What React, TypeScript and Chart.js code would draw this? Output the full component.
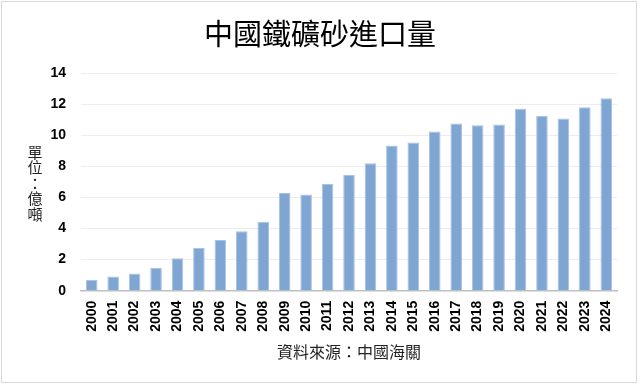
import React, { useEffect, useRef } from "react";
import { Chart, registerables } from "chart.js";

Chart.register(...registerables);

const years = [
  "2000", "2001", "2002", "2003", "2004", "2005", "2006", "2007", "2008", "2009",
  "2010", "2011", "2012", "2013", "2014", "2015", "2016", "2017", "2018", "2019",
  "2020", "2021", "2022", "2023", "2024",
];
const imports = [
  0.70, 0.92, 1.11, 1.48, 2.08, 2.75, 3.26, 3.83, 4.44, 6.28,
  6.19, 6.86, 7.44, 8.19, 9.33, 9.53, 10.24, 10.75, 10.64, 10.69,
  11.70, 11.24, 11.07, 11.79, 12.37,
];
const chartTitle = "中國鐵礦砂進口量";
const yTitleChars = ["單", "位", "：", "億", "噸"];
const xTitle = "資料來源：中國海關";

const W = 640;
const H = 386;
const CJK = '"Noto Sans CJK TC", "Noto Sans CJK SC", sans-serif';
const NUM = '"Liberation Sans", Arial, sans-serif';

const textPlugin = {
  id: "extraText",
  afterDraw(chart: any) {
    const ctx = chart.ctx;
    ctx.save();
    ctx.fillStyle = "#000000";
    ctx.textAlign = "center";
    ctx.textBaseline = "middle";
    ctx.font = `29px ${CJK}`;
    ctx.fillText(chartTitle, 320, 34);
    ctx.fillStyle = "#222222";
    ctx.font = `15px ${CJK}`;
    yTitleChars.forEach((c, i) => {
      ctx.fillText(c, 35, 152 + i * 15.5);
    });
    ctx.restore();
  },
};

export default function App() {
  const ref = useRef<HTMLCanvasElement | null>(null);
  useEffect(() => {
    document.body.style.margin = "0";
    const canvas = ref.current;
    if (!canvas) return;
    const chart = new Chart(canvas, {
      type: "bar",
      data: {
        labels: years,
        datasets: [
          {
            data: imports,
            backgroundColor: "#7FA5D3",
            borderColor: "#A8C2E4",
            borderWidth: 1,
            barPercentage: 0.54,
            categoryPercentage: 1,
          },
        ],
      },
      options: {
        responsive: false,
        animation: false,
        layout: { padding: { left: 0, right: 23, top: 73, bottom: 0 } },
        plugins: {
          legend: { display: false },
          title: { display: false },
          tooltip: { enabled: false },
        },
        scales: {
          x: {
            grid: { display: false, drawTicks: false },
            border: { display: true, color: "#BFBFBF", width: 1.5 },
            ticks: {
              color: "#000000",
              font: { family: NUM, size: 14, weight: "bold" },
              maxRotation: 90,
              minRotation: 90,
              autoSkip: false,
              padding: 10,
            },
            title: {
              display: true,
              text: xTitle,
              color: "#222222",
              font: { family: CJK, size: 16 },
              padding: { top: 0, bottom: 24 },
            },
            afterFit(scale: any) {
              scale.height = 95.3;
            },
          },
          y: {
            min: 0,
            max: 14,
            grid: { color: "#EDEDED", lineWidth: 1, drawTicks: false },
            border: { display: false },
            ticks: {
              stepSize: 2,
              color: "#000000",
              font: { family: NUM, size: 14, weight: "bold" },
              padding: 15,
            },
            afterFit(scale: any) {
              scale.width = 81;
            },
          },
        },
      },
      plugins: [textPlugin],
    });
    return () => chart.destroy();
  }, []);

  return (
    <div style={{ position: "fixed", left: 0, top: 0, width: W, height: H, background: "#ffffff" }}>
      <div
        style={{
          position: "absolute",
          left: 1,
          top: 1,
          width: 636,
          height: 382,
          border: "1px solid #D9D9D9",
          boxSizing: "border-box",
        }}
      />
      <canvas ref={ref} width={W} height={H} style={{ position: "absolute", left: 0, top: 0 }} />
    </div>
  );
}
